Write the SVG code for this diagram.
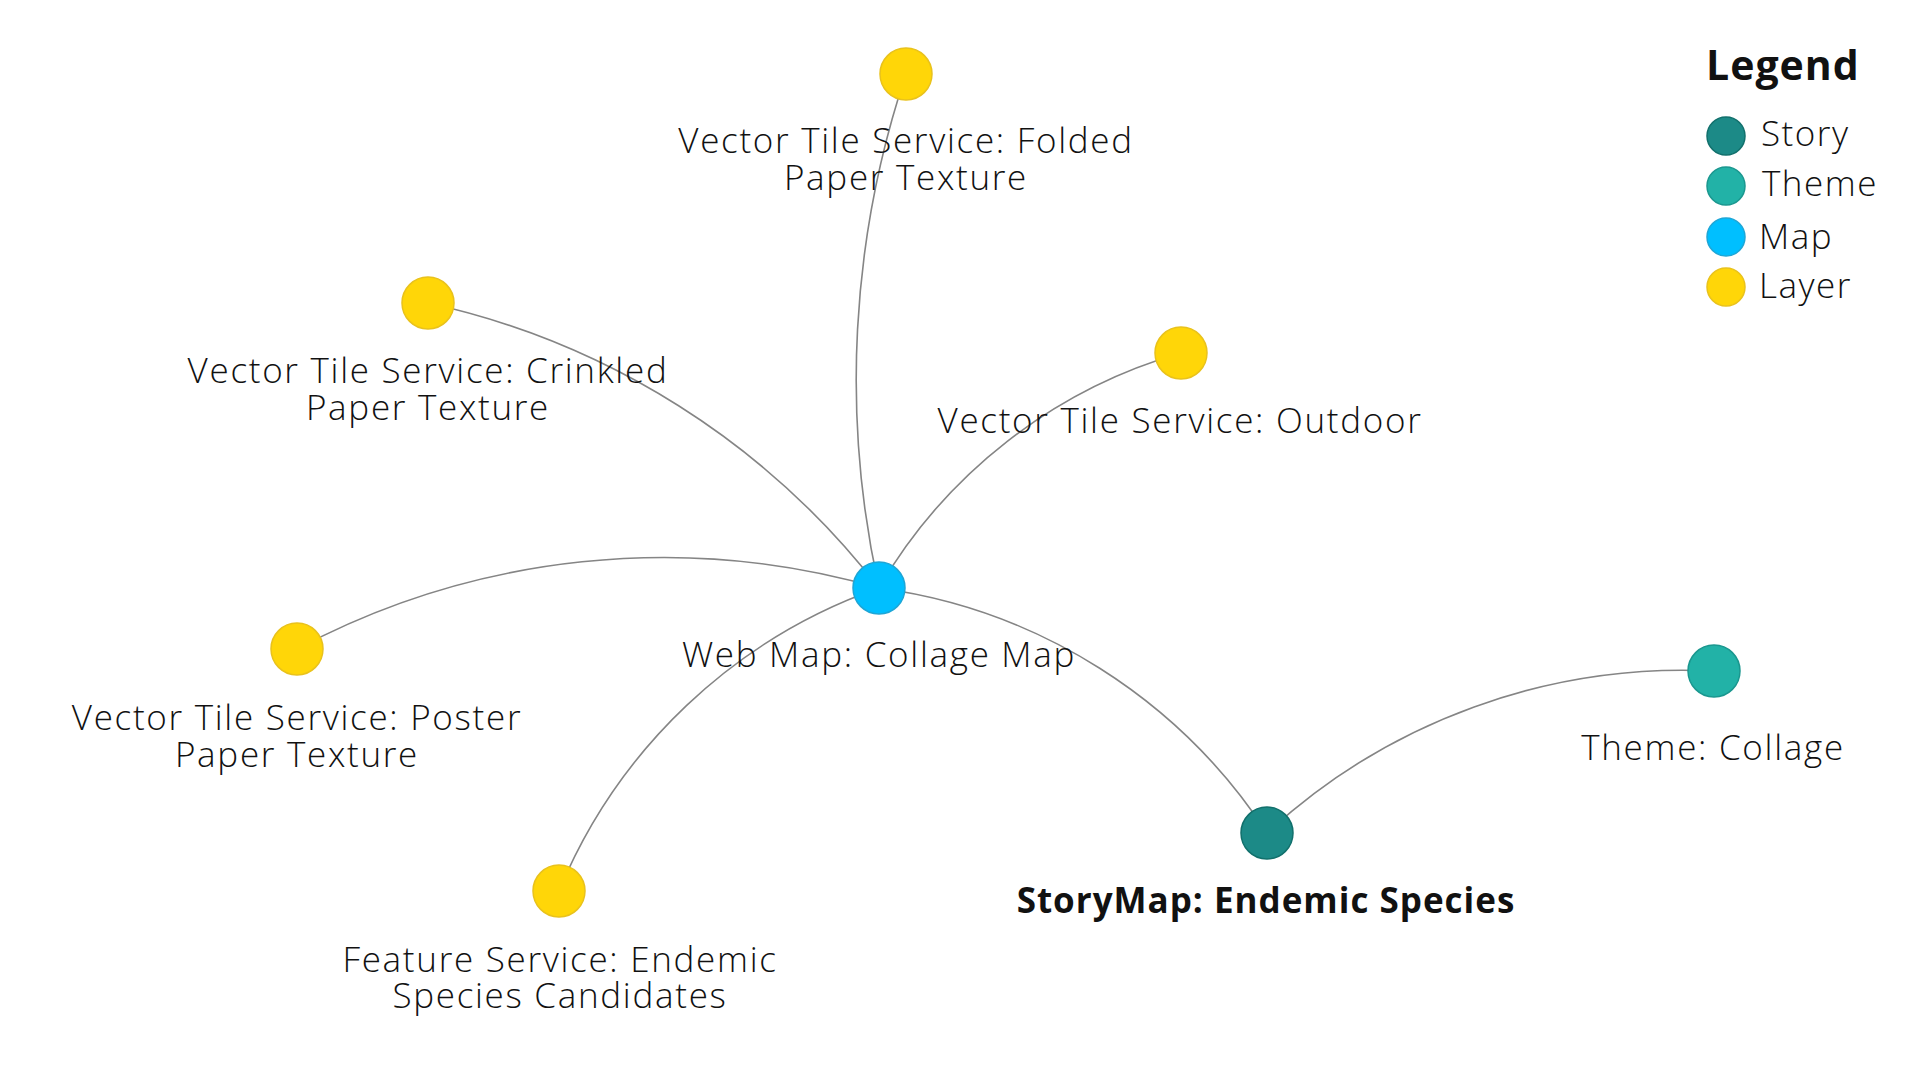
<svg xmlns="http://www.w3.org/2000/svg" width="1921" height="1081" viewBox="0 0 1921 1081">
<style>
.edge{fill:none;stroke:#858585;stroke-width:1.6}
.layer{fill:#FFD608;stroke:#E9C21C;stroke-width:1.5}
.map{fill:#00BFFF;stroke:#1EA6D6;stroke-width:1.5}
.story{fill:#1C8A87;stroke:#11706C;stroke-width:1.5}
.theme{fill:#22B2A7;stroke:#1A978F;stroke-width:1.5}
.lbl{font-family:"Open Sans","Liberation Sans",sans-serif;font-weight:300;font-size:35px;letter-spacing:1.7px;fill:#111;text-anchor:middle}
.bold{font-family:"Open Sans","Liberation Sans",sans-serif;font-weight:700;font-size:35px;letter-spacing:1px;fill:#111;text-anchor:middle}
.lgt{font-family:"Open Sans","Liberation Sans",sans-serif;font-weight:700;font-size:41px;letter-spacing:1px;fill:#111}
.lgi{font-family:"Open Sans","Liberation Sans",sans-serif;font-weight:300;font-size:35px;letter-spacing:1.5px;fill:#111}
</style>
<rect width="1921" height="1081" fill="#fff"/>
<g id="connectors">
<path class="edge" d="M879,588 A963.6,963.6 0 0,1 906,74"/>
<path class="edge" d="M879,588 A780.5,780.5 0 0,0 428,303"/>
<path class="edge" d="M879,588 A513.3,513.3 0 0,1 1181,353"/>
<path class="edge" d="M879,588 A779.5,779.5 0 0,0 297,649"/>
<path class="edge" d="M879,588 A540,540 0 0,0 559,891"/>
<path class="edge" d="M879,588 A551.5,551.5 0 0,1 1267,833"/>
<path class="edge" d="M1267,833 A612.8,612.8 0 0,1 1714,671"/>
</g>
<g id="node-folded">
<circle class="layer" cx="906" cy="74" r="26"/>
<text class="lbl" x="906" y="153">Vector Tile Service: Folded</text>
<text class="lbl" x="906" y="190">Paper Texture</text>
</g>
<g id="node-crinkled">
<circle class="layer" cx="428" cy="303" r="26"/>
<text class="lbl" x="428" y="383">Vector Tile Service: Crinkled</text>
<text class="lbl" x="428" y="420">Paper Texture</text>
</g>
<g id="node-outdoor">
<circle class="layer" cx="1181" cy="353" r="26"/>
<text class="lbl" x="1180" y="433">Vector Tile Service: Outdoor</text>
</g>
<g id="node-map">
<circle class="map" cx="879" cy="588" r="26"/>
<text class="lbl" x="879" y="667">Web Map: Collage Map</text>
</g>
<g id="node-poster">
<circle class="layer" cx="297" cy="649" r="26"/>
<text class="lbl" x="297" y="730">Vector Tile Service: Poster</text>
<text class="lbl" x="297" y="767">Paper Texture</text>
</g>
<g id="node-feature">
<circle class="layer" cx="559" cy="891" r="26"/>
<text class="lbl" x="560" y="972">Feature Service: Endemic</text>
<text class="lbl" x="560" y="1008">Species Candidates</text>
</g>
<g id="node-story">
<circle class="story" cx="1267" cy="833" r="26"/>
<text class="bold" x="1266" y="913">StoryMap: Endemic Species</text>
</g>
<g id="node-theme">
<circle class="theme" cx="1714" cy="671" r="26"/>
<text class="lbl" x="1713" y="760">Theme: Collage</text>
</g>
<g id="legend">
<text class="lgt" x="1706" y="80">Legend</text>
<circle class="story" cx="1726" cy="136" r="19"/>
<text class="lgi" x="1761" y="146">Story</text>
<circle class="theme" cx="1726" cy="186" r="19"/>
<text class="lgi" x="1762" y="196">Theme</text>
<circle class="map" cx="1726" cy="237" r="19"/>
<text class="lgi" x="1759" y="249">Map</text>
<circle class="layer" cx="1726" cy="287" r="19"/>
<text class="lgi" x="1759" y="298">Layer</text>
</g>
</svg>
